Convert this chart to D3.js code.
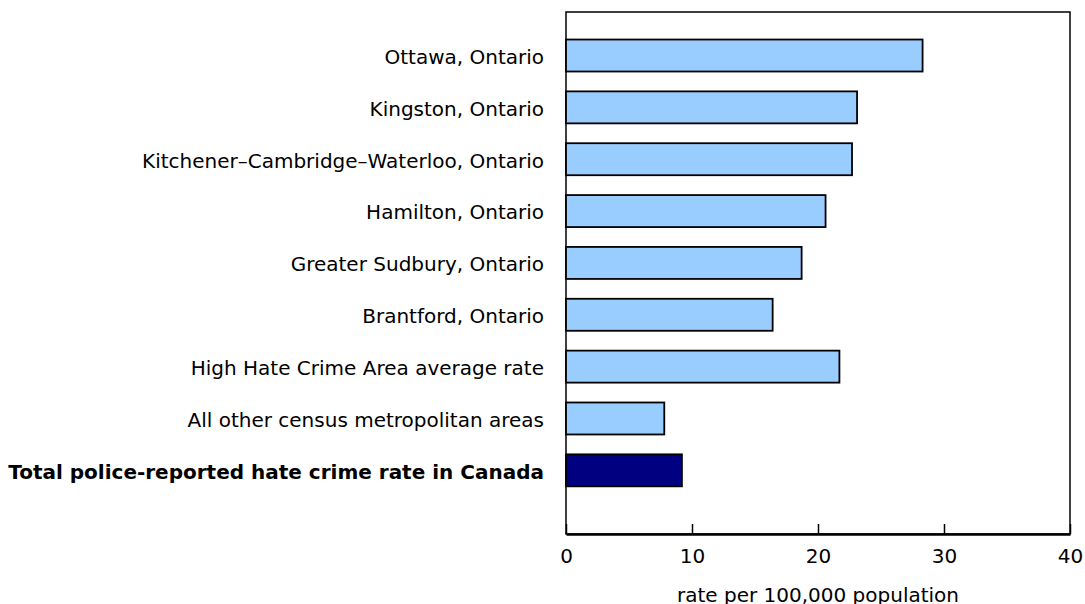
<!DOCTYPE html>
<html>
<head>
<meta charset="utf-8">
<script src="https://cdn.jsdelivr.net/npm/d3@7"></script>
<style>
  html, body { margin: 0; padding: 0; background: #fff; }
  svg { display: block; font-family: "DejaVu Sans", Verdana, sans-serif; }
</style>
</head>
<body>
<div class="chart"></div>
<script>
// Categories top to bottom, and the rate for each (per 100,000 population)
const categories = [
  "Ottawa, Ontario",
  "Kingston, Ontario",
  "Kitchener\u2013Cambridge\u2013Waterloo, Ontario",
  "Hamilton, Ontario",
  "Greater Sudbury, Ontario",
  "Brantford, Ontario",
  "High Hate Crime Area average rate",
  "All other census metropolitan areas",
  "Total police-reported hate crime rate in Canada"
];
const rates = [28.3, 23.1, 22.7, 20.6, 18.7, 16.4, 21.7, 7.8, 9.2];
const xTicks = [0, 10, 20, 30, 40];
const totalLabel = "Total police-reported hate crime rate in Canada";
const axisTitle = "rate per 100,000 population";

const width = 1085, height = 604;
const margin = { top: 12, right: 15, bottom: 70, left: 566 };

const svg = d3.select(".chart").append("svg")
  .attr("width", width)
  .attr("height", height);

const x = d3.scaleLinear()
  .domain([0, 40])
  .range([margin.left, width - margin.right]);

// band scale, with more empty space under the last bar than above the first
const y = d3.scaleBand()
  .domain(categories)
  .range([margin.top, height - margin.bottom])
  .paddingInner(0.383)
  .paddingOuter(0.725)
  .align(0.366);

const plotBottom = height - margin.bottom;

// frame round the plot
svg.append("rect")
  .attr("x", x(0))
  .attr("y", margin.top)
  .attr("width", x(40) - x(0))
  .attr("height", plotBottom - margin.top)
  .attr("fill", "none")
  .attr("stroke", "#000")
  .attr("stroke-width", 1.5);

const rows = categories.map((c, i) => ({ name: c, value: rates[i] }));

// bars
svg.append("g")
  .selectAll("rect")
  .data(rows)
  .join("rect")
    .attr("x", x(0))
    .attr("y", d => y(d.name))
    .attr("width", d => x(d.value) - x(0))
    .attr("height", y.bandwidth())
    .attr("fill", d => d.name === totalLabel ? "#000080" : "#99ccff")
    .attr("stroke", "#000")
    .attr("stroke-width", 1.8);

// category labels
svg.append("g")
  .selectAll("text")
  .data(rows)
  .join("text")
    .attr("x", x(0) - 22)
    .attr("y", d => y(d.name) + y.bandwidth() / 2)
    .attr("dy", "0.42em")
    .attr("text-anchor", "end")
    .attr("font-size", 20)
    .attr("font-weight", d => d.name === totalLabel ? "bold" : "normal")
    .attr("fill", "#000")
    .text(d => d.name);

// x axis, ticks pointing up into the plot
const xAxis = svg.append("g")
  .attr("transform", "translate(0," + plotBottom + ")")
  .call(d3.axisBottom(x).tickValues(xTicks).tickSizeInner(-10).tickSizeOuter(0).tickPadding(15));

xAxis.select(".domain").attr("stroke-width", 2.5);
xAxis.selectAll(".tick line").attr("stroke-width", 1.5);
xAxis.selectAll(".tick text")
  .attr("font-size", 20)
  .attr("font-family", "DejaVu Sans, Verdana, sans-serif")
  .attr("fill", "#000");

svg.append("text")
  .attr("x", (x(0) + x(40)) / 2)
  .attr("y", 602)
  .attr("text-anchor", "middle")
  .attr("font-size", 20)
  .attr("fill", "#000")
  .text(axisTitle);
</script>
</body>
</html>
